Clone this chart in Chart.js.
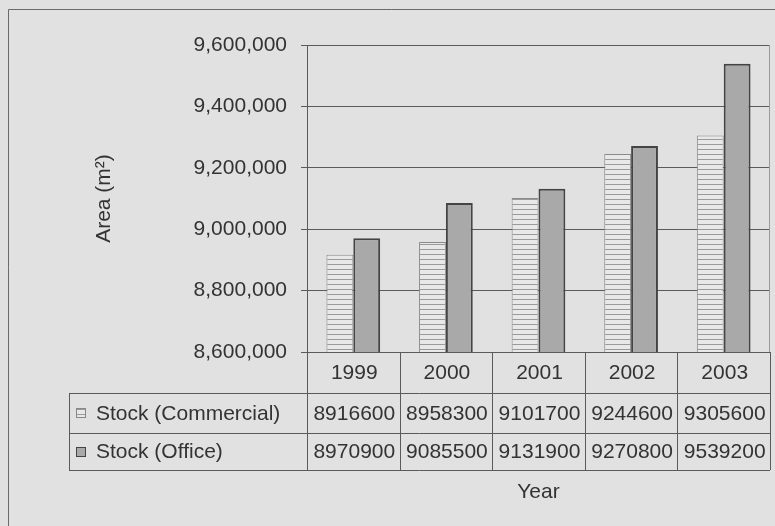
<!DOCTYPE html>
<html lang="en">
<head>
  <meta charset="UTF-8">
  <title>Stock area</title>
  <style>
    body { margin: 0; background: #e1e1e1; }
    #wrap { width: 775px; height: 526px; }
  </style>
</head>
<body>
  <div id="wrap"><canvas id="stockChart" width="775" height="526"></canvas></div>

  <script src="https://cdn.jsdelivr.net/npm/chart.js"></script>
  <script>
    const years = ['1999', '2000', '2001', '2002', '2003'];
    const commercial = [8916600, 8958300, 9101700, 9244600, 9305600];
    const office = [8970900, 9085500, 9131900, 9270800, 9539200];
    const yTicks = [8600000, 8800000, 9000000, 9200000, 9400000, 9600000];

    const FONT = '"Liberation Sans", Arial, sans-serif';
    const TEXT = '#333';
    const LINE = '#5a5a5a';

    // striped fill for the commercial bars
    function stripes() {
      const c = document.createElement('canvas');
      c.width = 6; c.height = 5;
      const g = c.getContext('2d');
      g.fillStyle = '#e8e8e8';
      g.fillRect(0, 0, 6, 5);
      g.fillStyle = '#9a9a9a';
      g.fillRect(0, 4, 6, 1);
      return g.createPattern(c, 'repeat');
    }
    const stripeFill = stripes();

    // page background + outer frame
    const framePlugin = {
      id: 'frame',
      beforeDraw(chart) {
        const ctx = chart.ctx;
        ctx.save();
        ctx.fillStyle = '#e1e1e1';
        ctx.fillRect(0, 0, chart.width, chart.height);
        ctx.strokeStyle = '#6a6a6a';
        ctx.lineWidth = 1;
        ctx.beginPath();
        ctx.moveTo(8.5, chart.height);
        ctx.lineTo(8.5, 9.5);
        ctx.lineTo(chart.width, 9.5);
        ctx.stroke();
        ctx.restore();
      }
    };

    // data table under the plot (years, values, legend keys)
    const tablePlugin = {
      id: 'dataTable',
      afterDraw(chart) {
        const ctx = chart.ctx;
        const x = chart.scales.x;
        const area = chart.chartArea;
        const colW = (area.right - area.left) / years.length;
        const top = area.bottom;
        const r1 = top + 41, r2 = r1 + 40, bottom = r2 + 37;
        const legLeft = 69;

        ctx.save();
        ctx.strokeStyle = LINE;
        ctx.lineWidth = 1;
        ctx.beginPath();
        // horizontal rules
        ctx.moveTo(legLeft, r1 + 0.5); ctx.lineTo(area.right, r1 + 0.5);
        ctx.moveTo(legLeft, r2 + 0.5); ctx.lineTo(area.right, r2 + 0.5);
        ctx.moveTo(legLeft, bottom + 0.5); ctx.lineTo(area.right, bottom + 0.5);
        // verticals
        ctx.moveTo(legLeft + 0.5, r1); ctx.lineTo(legLeft + 0.5, bottom);
        ctx.moveTo(Math.round(area.left) + 0.5, top); ctx.lineTo(Math.round(area.left) + 0.5, bottom);
        for (let i = 1; i <= years.length; i++) {
          const bx = Math.round(x.getPixelForValue(i - 1) + colW / 2) + 0.5;
          ctx.moveTo(bx, top); ctx.lineTo(bx, bottom);
        }
        ctx.stroke();

        ctx.fillStyle = TEXT;
        ctx.font = '21px ' + FONT;
        ctx.textAlign = 'center';
        ctx.textBaseline = 'middle';
        const rows = [[top, r1, years], [r1, r2, commercial], [r2, bottom, office]];
        rows.forEach(([a, b, vals]) => {
          vals.forEach((v, i) => {
            ctx.fillText(String(v), x.getPixelForValue(i) + 1, (a + b) / 2 + 1);
          });
        });

        // legend keys
        ctx.textAlign = 'left';
        chart.data.datasets.forEach((ds, k) => {
          const a = k === 0 ? r1 : r2, b = k === 0 ? r2 : bottom;
          const cy = (a + b) / 2;
          ctx.fillStyle = ds.backgroundColor;
          ctx.fillRect(76, Math.round(cy) - 5, 10, 10);
          ctx.strokeStyle = k === 0 ? '#888' : '#444';
          ctx.strokeRect(76.5, Math.round(cy) - 4.5, 9, 9);
          ctx.fillStyle = TEXT;
          ctx.fillText(ds.label, 96, cy + 1);
        });

        // axis title under the table
        ctx.textAlign = 'center';
        ctx.fillText('Year', (area.left + area.right) / 2, bottom + 22);

        // right edge of plot
        ctx.strokeStyle = '#9a9a9a';
        ctx.beginPath();
        ctx.moveTo(Math.round(area.right) - 0.5, area.top);
        ctx.lineTo(Math.round(area.right) - 0.5, top);
        ctx.stroke();
        ctx.restore();
      }
    };

    new Chart(document.getElementById('stockChart'), {
      type: 'bar',
      data: {
        labels: years,
        datasets: [{
          label: 'Stock (Commercial)',
          data: commercial,
          backgroundColor: stripeFill,
          borderColor: '#8a8a8a',
          borderWidth: 1
        }, {
          label: 'Stock (Office)',
          data: office,
          backgroundColor: '#a9a9a9',
          borderColor: '#444',
          borderWidth: 2
        }]
      },
      options: {
        responsive: false,
        animation: false,
        categoryPercentage: 0.58,
        barPercentage: 1,
        layout: { padding: { left: 8, right: 5, top: 45, bottom: 174 } },
        plugins: {
          legend: { display: false },
          tooltip: { enabled: false }
        },
        scales: {
          x: { display: false },
          y: {
            min: yTicks[0],
            max: yTicks[yTicks.length - 1],
            afterFit(scale) { scale.width = 299; },
            afterBuildTicks(scale) { scale.ticks = yTicks.map(v => ({ value: v })); },
            ticks: {
              color: TEXT,
              font: { family: FONT, size: 21 },
              padding: 14,
              callback: v => v.toLocaleString('en-US')
            },
            grid: { color: LINE, lineWidth: 1, tickLength: 6 },
            border: { color: LINE },
            title: {
              display: true,
              text: 'Area (m²)',
              color: TEXT,
              font: { family: FONT, size: 21 },
              padding: { top: 84, bottom: 0 }
            }
          }
        }
      },
      plugins: [framePlugin, tablePlugin]
    });
  </script>
</body>
</html>
